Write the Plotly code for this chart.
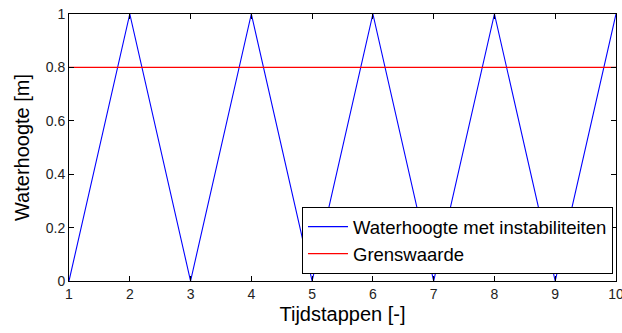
import plotly.graph_objects as go

# Time steps and water level with instabilities
tijdstappen = [1, 2, 3, 4, 5, 6, 7, 8, 9, 10]
waterhoogte = [0, 1, 0, 1, 0, 1, 0, 1, 0, 1]
grenswaarde = [0.8] * len(tijdstappen)

x_ticks = [1, 2, 3, 4, 5, 6, 7, 8, 9, 10]
y_ticks = [0, 0.2, 0.4, 0.6, 0.8, 1]
y_tick_labels = ["0", "0.2", "0.4", "0.6", "0.8", "1"]

fig = go.Figure()
fig.add_trace(go.Scatter(
    x=tijdstappen, y=waterhoogte, mode="lines",
    name="Waterhoogte met instabiliteiten",
    line=dict(color="#0000ff", width=1.1),
))
fig.add_trace(go.Scatter(
    x=tijdstappen, y=grenswaarde, mode="lines",
    name="Grenswaarde",
    line=dict(color="#ff0000", width=1.2),
))

font = "Liberation Sans, Arial, sans-serif"
axis_common = dict(
    showgrid=False, zeroline=False, showline=True, linecolor="#000000",
    linewidth=1, mirror="allticks", ticks="inside", ticklen=5,
    tickcolor="#000000", tickfont=dict(family=font, size=14, color="#222222"),
    ticklabeloverflow="allow", automargin=False,
)

fig.update_layout(
    width=622, height=333,
    margin=dict(l=69, r=6, t=14, b=52, autoexpand=False),
    paper_bgcolor="#ffffff", plot_bgcolor="#ffffff",
    xaxis=dict(range=[1, 10], tickvals=x_ticks,
               title=dict(text="Tijdstappen [-]", font=dict(family=font, size=20, color="#000000"), standoff=6),
               **axis_common),
    yaxis=dict(range=[0, 1], tickvals=y_ticks, ticktext=y_tick_labels,
               title=dict(text="Waterhoogte [m]", font=dict(family=font, size=20, color="#000000"), standoff=10),
               **axis_common),
    legend=dict(x=0.9945, y=0.026, xanchor="right", yanchor="bottom",
                bgcolor="#ffffff", bordercolor="#000000", borderwidth=1,
                font=dict(family=font, size=18.5, color="#000000"),
                tracegroupgap=0, itemwidth=40),
    showlegend=True,
)

fig.write_html("out.html")
